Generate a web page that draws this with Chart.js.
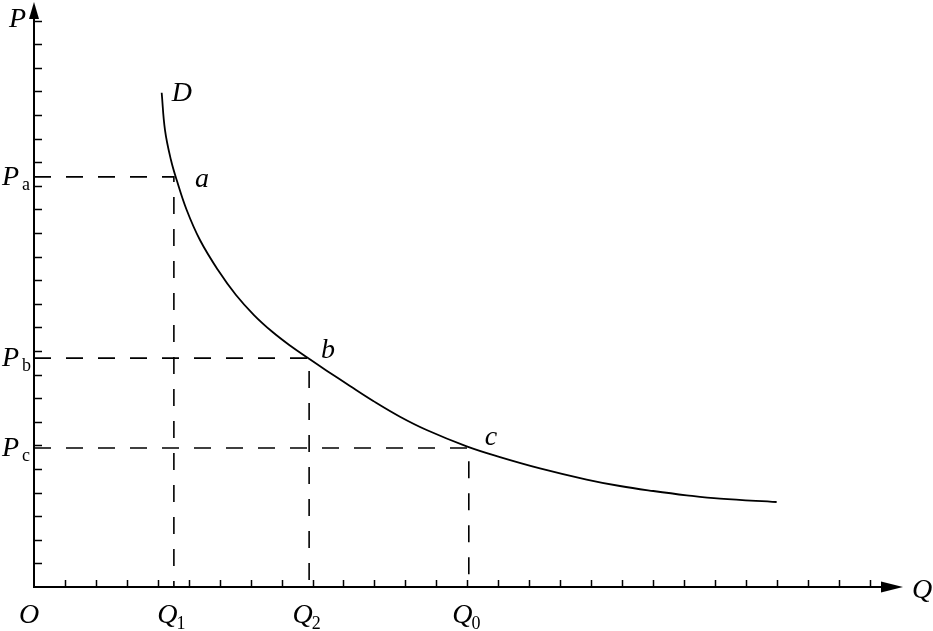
<!DOCTYPE html>
<html>
<head>
<meta charset="utf-8">
<script src="https://cdn.jsdelivr.net/npm/chart.js@4/dist/chart.umd.min.js"></script>
<style>
html,body{margin:0;padding:0;background:#fff;}
#wrap{width:933px;height:631px;}
</style>
</head>
<body>
<div id="wrap"><canvas id="c" width="933" height="631"></canvas></div>
<script>
// Demand curve D (quantity Q, price P) in axis tick units
const curveQ = [4.126, 4.233, 4.426, 4.611, 4.934, 5.363, 5.945, 6.527, 7.108, 7.690, 8.271, 8.853, 9.457, 10.210, 10.963, 11.826, 12.688, 13.981, 15.057, 16.349, 17.858, 18.934, 20.010, 21.089, 22.165, 23.997];
const curveP = [20.945, 19.364, 18.093, 17.246, 15.975, 14.703, 13.432, 12.373, 11.525, 10.826, 10.233, 9.703, 9.169, 8.517, 7.881, 7.216, 6.653, 5.962, 5.508, 5.030, 4.555, 4.280, 4.068, 3.886, 3.742, 3.602];

// Marked points a, b, c
const pointNames = ['a', 'b', 'c'];
const pointQ = [4.52, 8.89, 14.05];
const pointP = [17.38, 9.70, 5.89];

// Tick labels
const qTickLabels = ['1', '2', '0'];   // subscripts of Q at pointQ
const pTickLabels = ['a', 'b', 'c'];   // subscripts of P at pointP
const xTickCount = 27;
const yTickCount = 24;
const xMax = 28.08;
const yMax = 24.79;

const black = '#000';
const datasets = [{
  data: curveQ.map((q, i) => ({x: q, y: curveP[i]})),
  showLine: true, borderColor: black, borderWidth: 1.8, pointRadius: 0,
  tension: 0.4, fill: false, clip: false
}];
pointQ.forEach((q, i) => {
  datasets.push({
    data: [{x: 0, y: pointP[i]}, {x: q, y: pointP[i]}, {x: q, y: 0}],
    showLine: true, borderColor: black, borderWidth: 1.6, borderDash: [17, 15],
    pointRadius: 0, tension: 0, fill: false, clip: false
  });
});

const serifI = 'italic 28px "Liberation Serif", "DejaVu Serif", serif';
const serifSub = '18px "Liberation Serif", "DejaVu Serif", serif';

const axesPlugin = {
  id: 'axes',
  afterDatasetsDraw(chart) {
    const ctx = chart.ctx;
    const xs = chart.scales.x, ys = chart.scales.y;
    const x0 = xs.getPixelForValue(0), y0 = ys.getPixelForValue(0);
    const xEnd = xs.getPixelForValue(xMax), yEnd = ys.getPixelForValue(yMax);
    ctx.save();
    ctx.strokeStyle = black; ctx.fillStyle = black; ctx.lineWidth = 2;
    // axes lines
    ctx.beginPath();
    ctx.moveTo(x0, yEnd + 10); ctx.lineTo(x0, y0); ctx.lineTo(xEnd - 10, y0);
    ctx.stroke();
    // arrow heads
    ctx.beginPath();
    ctx.moveTo(xEnd, y0); ctx.lineTo(xEnd - 22, y0 - 5.5); ctx.lineTo(xEnd - 22, y0 + 5.5); ctx.closePath(); ctx.fill();
    ctx.beginPath();
    ctx.moveTo(x0, yEnd); ctx.lineTo(x0 - 5, yEnd + 17); ctx.lineTo(x0 + 5, yEnd + 17); ctx.closePath(); ctx.fill();
    // ticks
    ctx.lineWidth = 1.5;
    ctx.beginPath();
    for (let i = 1; i <= xTickCount; i++) {
      const px = Math.round(xs.getPixelForValue(i)) + 0.5;
      ctx.moveTo(px, y0); ctx.lineTo(px, y0 - 7);
    }
    for (let j = 1; j <= yTickCount; j++) {
      const py = Math.round(ys.getPixelForValue(j)) + 0.5;
      ctx.moveTo(x0, py); ctx.lineTo(x0 + 8, py);
    }
    ctx.stroke();
    // texts
    ctx.textBaseline = 'alphabetic';
    ctx.textAlign = 'left';
    ctx.font = serifI;
    ctx.fillText('P', x0 - 25, yEnd + 25);
    ctx.fillText('Q', xEnd + 9, y0 + 11);
    ctx.fillText('O', x0 - 15, y0 + 36);
    // P subscript labels
    pointP.forEach((p, i) => {
      const py = ys.getPixelForValue(p);
      ctx.font = serifI; ctx.fillText('P', x0 - 32, py + 8);
      ctx.font = serifSub; ctx.fillText(pTickLabels[i], x0 - 12, py + 13);
    });
    // Q subscript labels
    pointQ.forEach((q, i) => {
      const px = xs.getPixelForValue(q);
      ctx.font = serifI;
      const w1 = ctx.measureText('Q').width;
      ctx.font = serifSub;
      const w2 = ctx.measureText(qTickLabels[i]).width;
      const left = px - 2 - (w1 + w2) / 2;
      ctx.font = serifI; ctx.fillText('Q', left, y0 + 36);
      ctx.font = serifSub; ctx.fillText(qTickLabels[i], left + w1 - 1, y0 + 42);
    });
    // curve labels
    ctx.font = serifI;
    const topX = xs.getPixelForValue(curveQ[0]), topY = ys.getPixelForValue(curveP[0]);
    ctx.fillText('D', topX + 10, topY + 8);
    const offs = [[21, 10], [12, 0], [16, -3]];
    pointNames.forEach((n, i) => {
      const px = xs.getPixelForValue(pointQ[i]), py = ys.getPixelForValue(pointP[i]);
      ctx.fillText(n, px + offs[i][0], py + offs[i][1]);
    });
    ctx.restore();
  }
};

new Chart(document.getElementById('c'), {
  type: 'scatter',
  data: {datasets},
  options: {
    responsive: false, animation: false, devicePixelRatio: 1,
    layout: {padding: {left: 34, right: 30, top: 2, bottom: 44}},
    scales: {
      x: {type: 'linear', min: 0, max: xMax, display: false},
      y: {type: 'linear', min: 0, max: yMax, display: false}
    },
    plugins: {legend: {display: false}, tooltip: {enabled: false}}
  },
  plugins: [axesPlugin]
});
</script>
</body>
</html>
